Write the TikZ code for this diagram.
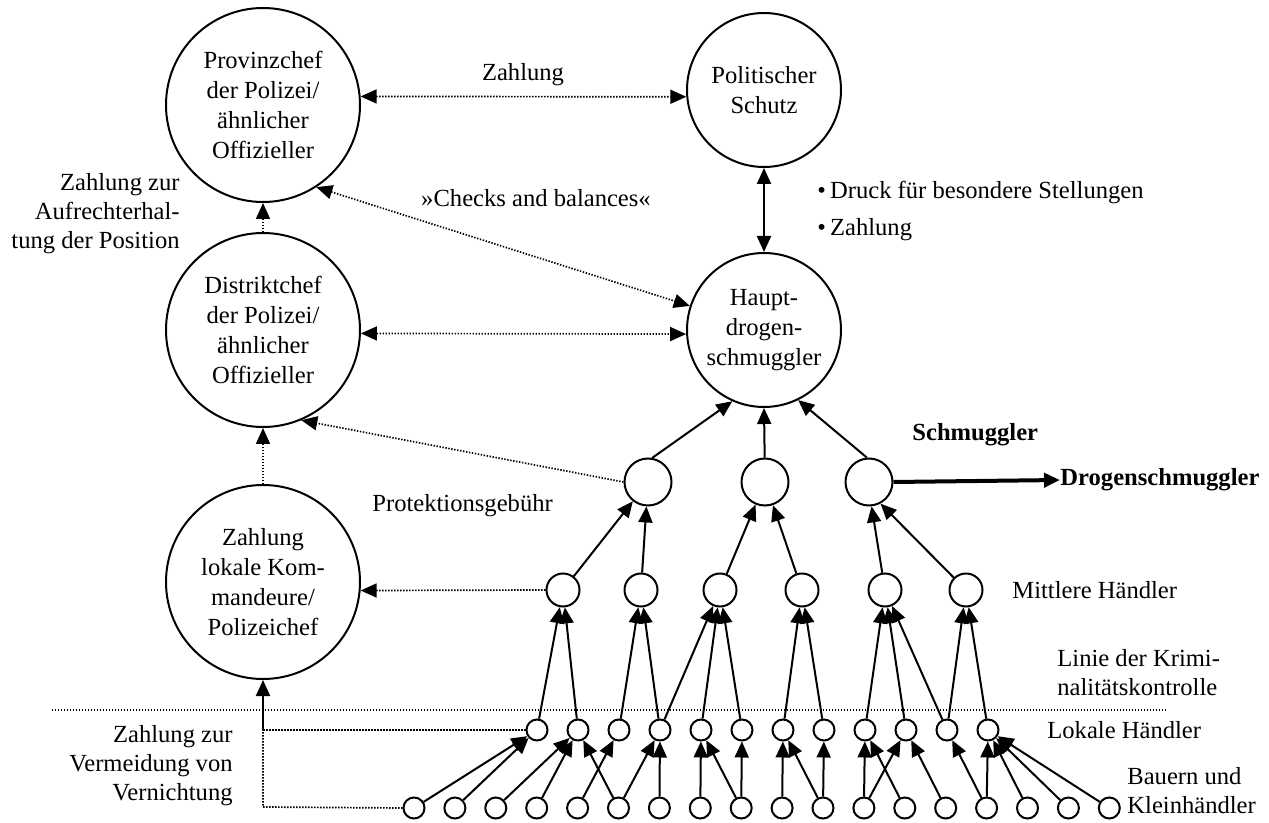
\documentclass[tikz,border=0pt]{standalone}
\usepackage{fontspec}
\setmainfont{Liberation Serif}
\usetikzlibrary{arrows.meta}
\begin{document}
\begin{tikzpicture}[x=0.5pt,y=-0.5pt,
  big/.style={circle,draw,line width=1pt,minimum size=97pt,inner sep=0pt,align=center,font=\fontsize{12.3}{15}\selectfont},
  med/.style={circle,draw,line width=1pt,minimum size=77pt,inner sep=0pt,align=center,font=\fontsize{12.3}{15}\selectfont},
  smug/.style={circle,draw,line width=1pt,minimum size=23.5pt,inner sep=0pt},
  mh/.style={circle,draw,line width=1pt,minimum size=16.5pt,inner sep=0pt},
  sm/.style={circle,draw,line width=1pt,minimum size=10.5pt,inner sep=0pt},
  lbl/.style={font=\fontsize{12.3}{14.5}\selectfont,inner sep=0pt},
  blbl/.style={font=\fontsize{12.3}{14.5}\selectfont\bfseries,inner sep=0pt},
  tip/.style={-{Triangle[length=8pt,width=7pt]}},
  tips/.style={{Triangle[length=8pt,width=7pt]}-{Triangle[length=8pt,width=7pt]}},
  arr/.style={line width=1pt,tip},
  dotln/.style={line width=0.85pt,dash pattern=on 0.7pt off 0.8pt},
  dotarr/.style={dotln,tip},
  dotarrs/.style={dotln,tips},
]
\useasboundingbox (0,0) rectangle (1269,823);

% big nodes
\node[big] (prov) at (263,105) {Provinzchef\\der Polizei/\\ähnlicher\\Offizieller};
\node[big] (dist) at (263,330) {Distriktchef\\der Polizei/\\ähnlicher\\Offizieller};
\node[big] (zahl) at (263,582) {Zahlung\\lokale Kom-\\mandeure/\\Polizeichef};
\node[med] (polit) at (764,90) {Politischer\\Schutz};
\node[med] (haupt) at (764,330) {Haupt-\\drogen-\\schmuggler};

% Schmuggler
\node[smug] (s1) at (648,482) {};
\node[smug] (s2) at (765,482) {};
\node[smug] (s3) at (869,482) {};

% Mittlere Haendler
\node[mh] (m1) at (563,590) {};
\node[mh] (m2) at (641,590) {};
\node[mh] (m3) at (720,590) {};
\node[mh] (m4) at (802,590) {};
\node[mh] (m5) at (885,590) {};
\node[mh] (m6) at (966,590) {};

% Lokale Haendler
\foreach \i in {1,...,12} {
  \node[sm] (l\i) at ({537+41*(\i-1)},730) {};
}
% Bauern
\foreach \i in {1,...,18} {
  \node[sm] (b\i) at ({414+40.9*(\i-1)},808) {};
}

% labels
\node[lbl,anchor=east,align=right] (lzza) at (180,214) {Zahlung zur\\Aufrechterhal-\\tung der Position};
\node[lbl,anchor=east,align=right] (lzzv) at (233,766) {Zahlung zur\\Vermeidung von\\Vernichtung};
\node[lbl] (lzahl) at (523,75) {Zahlung};
\node[lbl] (lcheck) at (536,198) {»Checks and balances«};
\node[lbl,anchor=west] (ldruck) at (817,192) {•\,Druck für besondere Stellungen};
\node[lbl,anchor=west] (lzb) at (817,230) {•\,Zahlung};
\node[blbl,anchor=west] (lschm) at (912,435) {Schmuggler};
\node[blbl,anchor=west] (drog) at (1060,480) {Drogenschmuggler};
\node[lbl,anchor=west] (lprot) at (372,506) {Protektionsgebühr};
\node[lbl,anchor=west] (lmitt) at (1012,590) {Mittlere Händler};
\node[lbl,anchor=west,align=left] (llinie) at (1057,673) {Linie der Krimi-\\nalitätskontrolle};
\node[lbl,anchor=west] (llok) at (1047,730) {Lokale Händler};
\node[lbl,anchor=west,align=left] (lbau) at (1127,791) {Bauern und\\Kleinhändler};

% line of crime control
\coordinate (lineA) at (52,710);
\coordinate (lineB) at (1167,710);
\draw[dotln] (lineA) -- (lineB);

% top dotted relations
\draw[dotarrs] (prov.5) -- (polit.185);
\draw[dotarrs] (prov.303) -- (haupt.162);
\draw[dotarrs] (dist.358) -- (haupt.183);
\draw[dotarr] (dist.north) -- (prov.south);
\draw[dotarr] (zahl.north) -- (dist.south);
\draw[dotarr] (s1.west) -- (dist.293);
\draw[dotarr] (m1.west) -- (zahl.355);

% political protection
\draw[line width=1pt,tips] (polit.south) -- (haupt.north);

% left connector
\coordinate (k1) at (263,730);
\coordinate (k2) at (263,807);
\draw[dotln] (l1.west) -- (k1);
\draw[dotln] (b1.west) -- (k2) -- (k1);
\draw[arr] (k1) -- (zahl.south);

% Schmuggler -> Haupt
\draw[arr] (s1.80) -- (haupt.246);
\draw[arr] (s2) -- (haupt.south);
\draw[arr] (s3.95) -- (haupt.296);
\draw[line width=2pt,tip] (s3.east) -- (drog.west);

% Mittlere -> Schmuggler
\draw[arr] (m1) -- (s1);
\draw[arr] (m2) -- (s1);
\draw[arr] (m3) -- (s2);
\draw[arr] (m4) -- (s2);
\draw[arr] (m5) -- (s3.276);
\draw[arr] (m6) -- (s3.298);

% Lokale -> Mittlere
\draw[arr] (l1) -- (m1);
\draw[arr] (l2) -- (m1);
\draw[arr] (l3) -- (m2);
\draw[arr] (l4) -- (m2);
\draw[arr] (l4) -- (m3);
\draw[arr] (l5) -- (m3);
\draw[arr] (l6) -- (m3);
\draw[arr] (l7) -- (m4);
\draw[arr] (l8) -- (m4);
\draw[arr] (l9) -- (m5);
\draw[arr] (l10) -- (m5);
\draw[arr] (l11) -- (m5);
\draw[arr] (l11) -- (m6);
\draw[arr] (l12) -- (m6);

% Bauern -> Lokale
\draw[arr] (b1) -- (l1);
\draw[arr] (b2) -- (l1);
\draw[arr] (b3) -- (l2);
\draw[arr] (b4) -- (l2);
\draw[arr] (b6) -- (l2);
\draw[arr] (b5) -- (l3);
\draw[arr] (b6) -- (l4);
\draw[arr] (b7) -- (l4);
\draw[arr] (b8) -- (l5);
\draw[arr] (b9) -- (l5);
\draw[arr] (b9) -- (l6);
\draw[arr] (b10) -- (l7);
\draw[arr] (b11) -- (l7);
\draw[arr] (b11) -- (l8);
\draw[arr] (b12) -- (l9);
\draw[arr] (b13) -- (l9);
\draw[arr] (b12) -- (l10);
\draw[arr] (b14) -- (l10);
\draw[arr] (b15) -- (l11);
\draw[arr] (b15) -- (l12);
\draw[arr] (b16) -- (l12);
\draw[arr] (b17) -- (l12);
\draw[arr] (b18) -- (l12);
\end{tikzpicture}
\end{document}
